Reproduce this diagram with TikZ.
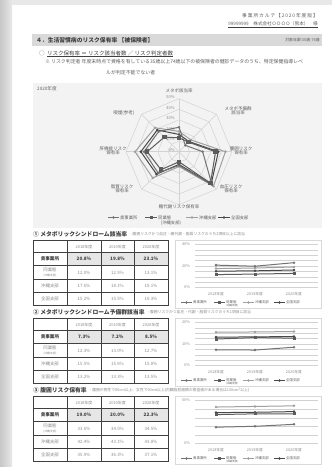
\documentclass[tikz,border=0pt]{standalone}
\usepackage{fontspec}
\setmainfont{Noto Sans CJK JP}
\usetikzlibrary{shapes.geometric}
\definecolor{txtdark}{HTML}{404040}
\definecolor{txtmid}{HTML}{5F5F5F}
\definecolor{txtgrey}{HTML}{8C8C8C}
\definecolor{bargrey}{HTML}{D9D9D9}
\definecolor{panelgrey}{HTML}{F3F3F3}
\definecolor{gridgrey}{HTML}{D2D2D2}
\definecolor{cellgrey}{HTML}{E6E6E6}
\definecolor{cA}{HTML}{737373}
\definecolor{cB}{HTML}{5C5C5C}
\definecolor{cC}{HTML}{A0A0A0}
\definecolor{cD}{HTML}{484848}
\newcommand\fs[1]{\fontsize{#1}{#1}\selectfont}
\tikzset{
  lbl/.style={inner sep=0pt, text=txtdark},
  grid/.style={draw=gridgrey, line width=0.5pt},
  cgrid/.style={draw=gridgrey, line width=0.4pt},
  sA/.style={draw=cA, line width=1pt},
  sB/.style={draw=cB, line width=1pt},
  sC/.style={draw=cC, line width=1pt},
  sD/.style={draw=cD, line width=1pt},
  mA/.style={circle, fill=cA, inner sep=0pt, minimum size=2.8pt},
  mB/.style={rectangle, fill=cB, inner sep=0pt, minimum size=3pt},
  mC/.style={circle, fill=cC, inner sep=0pt, minimum size=2.8pt},
  mD/.style={circle, fill=cD, inner sep=0pt, minimum size=2.8pt},
  mBbig/.style={mB, minimum size=4.5pt},
  tline/.style={draw=txtdark, line width=0.6pt},
  tval/.style={lbl, text=txtgrey, font=\fs{4.4}},
  tbold/.style={lbl, text=txtdark, font=\fs{4.6}\bfseries},
}
% legend item: x, y, length, line style, mark style, label, font size
\newcommand\legitem[7]{%
  \draw[#4] (#1,#2) -- ++(#3,0);
  \node[#5] at ({#1+#3/2},#2) {};
  \node[lbl, anchor=west, font=\fs{#7}, text=txtmid] at ({#1+#3+1},#2) {#6};
}
% table: top, four rows of values
\newcommand\rtable[5]{%
\begin{scope}[shift={(0,#1)}]
  \fill[cellgrey] (67,12) rectangle (168,25.25);
  \foreach \yy in {12,25.25,38.5,51.75} \draw[tline] (33,\yy) -- (168,\yy);
  \foreach \xx in {67,101,134.5} \draw[tline] (\xx,0) -- (\xx,65);
  \draw[tline, line width=0.8pt] (33,0) rectangle (168,65);
  \foreach \yr [count=\i] in {2018,2019,2020}
    \node[lbl, text=txtgrey, font=\fs{4}] at ({50.5+33.5*\i},6) {\yr 年度};
  \node[tbold] at (50,18.6) {貴事業所};
  \node[lbl, text=txtgrey, font=\fs{4.4}] at (50,29.6) {同業態};
  \node[lbl, text=txtgrey, font=\fs{2.8}] at (50,35) {(沖縄支部)};
  \node[lbl, text=txtgrey, font=\fs{4.4}] at (50,45.1) {沖縄支部};
  \node[lbl, text=txtgrey, font=\fs{4.4}] at (50,58.4) {全国支部};
  \foreach \v [count=\i] in {#2} \node[tbold] at ({50.5+33.5*\i},18.6) {\v};
  \foreach \v [count=\i] in {#3} \node[tval] at ({50.5+33.5*\i},31.9) {\v};
  \foreach \v [count=\i] in {#4} \node[tval] at ({50.5+33.5*\i},45.1) {\v};
  \foreach \v [count=\i] in {#5} \node[tval] at ({50.5+33.5*\i},58.4) {\v};
\end{scope}}
% series of a line chart
\newcommand\cseries[3]{%
  \foreach \v [count=\i] in {#3} {\coordinate (q\i) at ({177+39*\i},\v);}
  \draw[#1] (q1) -- (q2) -- (q3);
  \foreach \i in {1,2,3} \node[#2] at (q\i) {};
}
% line chart: top, max, intervals, labels, four series
\newcommand\lchart[8]{%
\begin{scope}[shift={(0,#1)}]
  \draw[draw=bargrey, fill=white, line width=0.5pt] (175,0) rectangle (321,68);
  \pgfmathsetmacro\ysc{43/#2}
  \begin{scope}[shift={(0,47)}, y=\ysc pt]
    \foreach \i in {0,...,#3} \draw[cgrid] (195,{\i*#2/#3}) -- (318,{\i*#2/#3});
    \foreach \l in {#4} \node[lbl, anchor=east, text=txtgrey, font=\fs{3.8}] at (190,\l) {\l\%};
    \cseries{sC}{mC}{#7}
    \cseries{sD}{mD}{#8}
    \cseries{sB}{mB}{#6}
    \cseries{sA}{mA}{#5}
  \end{scope}
  \foreach \yr [count=\i] in {2018,2019,2020}
    \node[lbl, text=txtgrey, font=\fs{3.8}] at ({177+39*\i},53.5) {\yr 年度};
  \legitem{181}{62}{11}{sA}{mA}{貴事業所}{3.4}
  \legitem{214}{62}{11}{sB}{mB}{同業態}{3.4}
  \node[lbl, font=\fs{2.6}, text=txtmid] at (232,65.5) {(沖縄支部)};
  \legitem{243}{62}{11}{sC}{mC}{沖縄支部}{3.4}
  \legitem{274}{62}{11}{sD}{mD}{全国支部}{3.4}
\end{scope}}
% radar series
\newcommand\rseries[3]{%
  \foreach \v [count=\k from 0] in {#3} {\coordinate (p\k) at ({90-45*\k}:\v);}
  \draw[#1] (p0) -- (p1) -- (p2) -- (p3) -- (p4) -- (p5) -- (p6) -- (p7) -- cycle;
  \foreach \k in {0,...,7} \node[#2] at (p\k) {};
}
\begin{document}
\begin{tikzpicture}[x=1pt,y=-1pt]
\useasboundingbox (0,0) rectangle (332,467);
\fill[white] (0,0) rectangle (332,467);
\shade[left color=black!22, right color=black!9] (0,0) rectangle (12,467);
\fill[black!9] (12,0) rectangle (332,4.5);

% header
\node[lbl, anchor=east, font={\fs{4.8}\addfontfeatures{LetterSpace=18}}, text=txtmid] (hd1) at (318,15.5) {事業所カルテ【2020年度版】};
\node[lbl, anchor=east, font=\fs{4.6}, text=txtmid] (hd2) at (318,23.5) {99999999　株式会社ＯＯＯＯ（熊本）　様};
\draw[txtdark, line width=0.9pt] ([yshift=-1.2pt]hd2.south west) -- ([yshift=-1.2pt]hd2.south east);

% section title bar
\fill[bargrey] (32,34) rectangle (322,46);
\node[lbl, anchor=west, font=\fs{5.8}\bfseries] (t4) at (36,40) {４．生活習慣病のリスク保有率 【被保険者】};
\node[lbl, anchor=east, font=\fs{3.9}, text=txtmid] (age) at (320,40) {対象年齢:35歳-74歳};

\node[lbl, anchor=west, font=\fs{5.5}, text=txtmid] (circ) at (39,53) {○};
\node[lbl, anchor=west, font=\fs{5.5}, text=txtdark] (frm) at (47,53) {リスク保有率 ＝ リスク該当者数 ／ リスク判定者数};
\draw[txtdark, line width=0.6pt] ([yshift=-1pt]frm.south west) -- ([yshift=-1pt]frm.south east);
\node[lbl, anchor=west, font=\fs{4.9}, text=txtmid] (n1) at (45,62) {※ リスク判定者 年度末時点で資格を有している35歳以上74歳以下の被保険者の健診データのうち、特定保健指導レベ};
\node[lbl, anchor=west, font=\fs{4.9}, text=txtmid] (n2) at (106,73) {ルが判定不能でない者};

% radar panel
\fill[panelgrey] (33,83) rectangle (321.5,228);
\node[lbl, anchor=west, font=\fs{4.6}, text=txtmid] (yr) at (37,89) {2020年度};
\begin{scope}[shift={(179,151.7)}, x=1.06pt, y=1.06pt]
  \foreach \r in {10,20,30,40,50}
    \draw[grid] (90:\r) -- (45:\r) -- (0:\r) -- (-45:\r) -- (-90:\r) -- (-135:\r) -- (180:\r) -- (135:\r) -- cycle;
  \foreach \k in {0,...,7} \draw[grid] (0,0) -- ({90-45*\k}:50);
  \foreach \r in {0,10,20,30,40,50}
    \node[lbl, anchor=east, text=txtgrey, font=\fs{4}] at (-4,{\r+1.5}) {\r\%};
  \rseries{sC}{mC}{19.1,15.8,43.8,46,14,35,41.5,32}
  \rseries{sD}{mD}{16.3,13.5,37.1,43,12,30,36,29}
  \rseries{sA}{mA}{23.1,8.5,22.3,44,13,28,33,27}
  \rseries{sB}{mBbig}{13.1,12.7,34.5,42,9.5,24,30,19.5}
\end{scope}
\tikzset{rl/.style={lbl, font=\fs{4.5}, text=txtmid, align=center}}
\node[rl] (ax0) at (179,90.5) {メタボ該当率};
\node[rl] (ax1) at (238,111) {メタボ予備群\\該当率};
\node[rl] (ax2) at (241,151) {腹囲リスク\\保有率};
\node[rl] (ax3) at (231,189) {血圧リスク\\保有率};
\node[rl] (ax4) at (179,206.5) {糖代謝リスク保有率};
\node[rl] (ax5) at (122,189) {脂質リスク\\保有率};
\node[rl] (ax6) at (113,151) {肝機能リスク\\保有率};
\node[rl] (ax7) at (124,113) {喫煙(参考)};
% radar legend
\legitem{108}{217.5}{11}{sA}{mA}{貴事業所}{4.3}
\legitem{145}{217.5}{12}{sB}{mB}{同業態}{4.3}
\node[lbl, font=\fs{4.3}, text=txtmid] (leg2b) at (171,223.5) {(沖縄支部)};
\legitem{186}{217.5}{12}{sC}{mC}{沖縄支部}{4.3}
\legitem{218}{217.5}{12}{sD}{mD}{全国支部}{4.3}

% section 1
\node[lbl, anchor=west, font=\fs{5.8}\bfseries] (s1) at (33,234) {① メタボリックシンドローム該当率};
\node[lbl, anchor=west, font=\fs{3.8}, text=txtgrey] (s1d) at ([xshift=3pt]s1.east) {- 腹囲リスクかつ血圧・糖代謝・脂質リスクのうち2項目以上に該当};
\rtable{240.5}{20.8\%,19.8\%,23.1\%}{12.0\%,12.5\%,13.1\%}{17.6\%,18.1\%,19.1\%}{15.2\%,15.5\%,16.3\%}
\lchart{240.5}{40}{8}{0,20,40}{20.8,19.8,23.1}{12.0,12.5,13.1}{17.6,18.1,19.1}{15.2,15.5,16.3}

% section 2
\node[lbl, anchor=west, font=\fs{5.8}\bfseries] (s2) at (33,312) {② メタボリックシンドローム予備群該当率};
\node[lbl, anchor=west, font=\fs{3.8}, text=txtgrey] (s2d) at ([xshift=3pt]s2.east) {- 腹囲リスクかつ血圧・代謝・脂質リスクのうち1項目に該当};
\rtable{318.5}{7.3\%,7.2\%,8.5\%}{12.3\%,13.0\%,12.7\%}{15.5\%,15.6\%,15.8\%}{13.2\%,13.3\%,13.5\%}
\lchart{318.5}{20}{8}{0,10,20}{7.3,7.2,8.5}{12.3,13.0,12.7}{15.5,15.6,15.8}{13.2,13.3,13.5}

% section 3
\node[lbl, anchor=west, font=\fs{5.8}\bfseries] (s3) at (33,390) {③ 腹囲リスク保有率};
\node[lbl, anchor=west, font=\fs{3.8}, text=txtgrey] (s3d) at ([xshift=3pt]s3.east) {- 腹囲が男性で85cm以上、女性で90cm以上(内臓脂肪面積の検査値がある場合は100cm²以上)};
\rtable{396.5}{19.0\%,20.0\%,22.3\%}{33.6\%,34.5\%,34.5\%}{42.4\%,43.1\%,43.8\%}{35.9\%,36.3\%,37.1\%}
\lchart{396.5}{50}{5}{0,50}{19.0,20.0,22.3}{33.6,34.5,34.5}{42.4,43.1,43.8}{35.9,36.3,37.1}
\end{tikzpicture}
\end{document}
